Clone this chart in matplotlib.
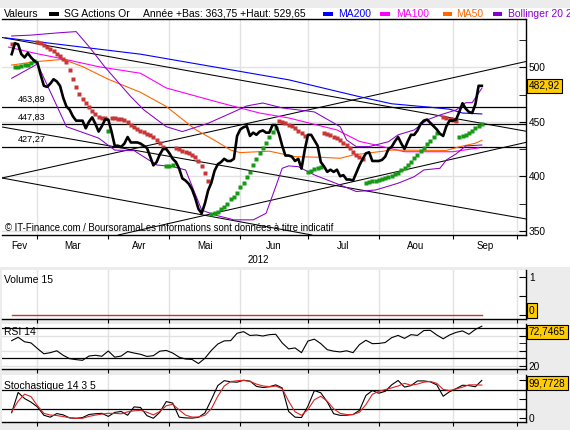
import numpy as np
import pandas as pd
import matplotlib
matplotlib.use('Agg')
import matplotlib.pyplot as plt
import matplotlib.transforms as mtransforms
from matplotlib.patches import Rectangle

plt.rcParams['font.family'] = ['Liberation Sans', 'DejaVu Sans']

# trading sessions on the x axis (Euronext Paris, 2012)
sessions = pd.bdate_range('2012-02-15', '2012-10-05')
sessions = sessions.drop(pd.to_datetime(['2012-04-06', '2012-04-09', '2012-05-01']))

first_day = '2012-02-20'
year_low, year_high = 363.75, 529.65

# daily close, 20 Feb -> 14 Sep
close = [512, 522, 521, 512, 509, 513, 509, 506, 504, 493,
         483, 482, 485, 489, 487, 483, 472, 464, 461, 455,
         451, 451, 451, 444, 450, 454, 448, 441, 446, 452,
         452, 441, 428, 428, 427, 430, 436, 431, 431, 431,
         430, 428, 426, 418, 410, 413, 420, 425, 425, 421,
         416, 413, 407, 398, 396, 393, 388, 380, 370, 366,
         375, 387, 394, 405, 411, 413, 416, 414, 414, 416,
         437, 443, 445, 446, 437, 440, 438, 441, 442, 440,
         440, 447, 447, 439, 428, 419, 419, 418, 414, 416,
         407, 424, 438, 438, 433, 428, 413, 409, 404, 406,
         404, 406, 400, 401, 397, 397, 396, 403, 410, 416,
         421, 422, 414, 414, 414, 415, 418, 425, 427, 432,
         436, 430, 425, 432, 438, 438, 442, 448, 451, 452,
         449, 446, 443, 439, 437, 446, 451, 451, 452, 459,
         467, 462, 459, 458, 466, 483, 482.92]

ma200_dates = ['2012-02-16', '2012-04-18', '2012-06-22', '2012-07-24', '2012-08-07',
               '2012-08-23', '2012-08-31', '2012-09-06', '2012-09-14']
ma200 = [527, 512, 488.5, 473, 466.5, 463.3, 461.5, 458, 457.2]

ma100_dates = ['2012-02-17', '2012-02-29', '2012-03-14', '2012-03-28', '2012-04-18',
               '2012-04-30', '2012-05-23', '2012-06-11', '2012-06-22', '2012-07-13',
               '2012-07-24', '2012-08-01', '2012-08-13', '2012-09-03', '2012-09-13']
ma100 = [518.5, 513, 507, 500.5, 494.5, 481, 468, 458, 453.5, 442.5, 432, 428, 422.5, 422.5, 426]

ma50_dates = ['2012-02-20', '2012-02-29', '2012-03-13', '2012-03-21', '2012-04-02',
              '2012-04-18', '2012-04-30', '2012-05-14', '2012-05-22', '2012-05-29',
              '2012-06-01', '2012-06-14', '2012-06-26', '2012-07-06', '2012-07-16',
              '2012-07-20', '2012-07-26', '2012-08-07', '2012-08-30', '2012-09-05',
              '2012-09-12', '2012-09-14']
ma50 = [502, 505, 507.3, 500.6, 489, 477, 464, 443, 433, 424, 421.7, 423, 418, 417.4,
        416.5, 419.5, 421, 424, 423.7, 427, 430.3, 433]

boll_up_dates = ['2012-02-20', '2012-02-28', '2012-03-12', '2012-03-19', '2012-03-23',
                 '2012-03-30', '2012-04-13', '2012-04-19', '2012-04-30', '2012-05-08',
                 '2012-05-18', '2012-05-29', '2012-06-05', '2012-06-12', '2012-06-20',
                 '2012-07-04', '2012-07-16', '2012-07-18', '2012-07-23', '2012-07-27',
                 '2012-08-06', '2012-08-09', '2012-08-16', '2012-08-22', '2012-08-28',
                 '2012-09-04', '2012-09-07', '2012-09-11', '2012-09-14']
boll_up = [528.7, 529.5, 531.7, 532.7, 519, 500, 473, 461, 445.5, 441, 448.6, 457.8,
           464.5, 467.2, 462.7, 459, 445.5, 433.3, 427.2, 427.2, 431.7, 438, 442.5,
           451.7, 456.2, 460.8, 467.5, 467.5, 480.7]

boll_lo_dates = ['2012-02-20', '2012-03-01', '2012-03-14', '2012-03-28', '2012-04-04',
                 '2012-04-16', '2012-04-25', '2012-05-03', '2012-05-09', '2012-05-16',
                 '2012-05-22', '2012-05-30', '2012-06-07', '2012-06-13', '2012-06-18',
                 '2012-06-20', '2012-06-22', '2012-06-27', '2012-07-04', '2012-07-16',
                 '2012-07-23', '2012-07-31', '2012-08-09', '2012-08-16', '2012-08-21',
                 '2012-08-28', '2012-08-30', '2012-09-04', '2012-09-07', '2012-09-14']
boll_lo = [489.9, 503, 445.5, 435, 424, 423.5, 410.4, 408.8, 405.8, 369, 364.5, 360,
           360, 366, 390.5, 407.3, 409.5, 408.8, 401.2, 392, 386, 387.4, 393.6, 399.6,
           405.8, 407.3, 415, 420.5, 427.8, 428.7]

# parabolic SAR runs: first session, side, values
sar_runs = [
    ('2012-02-20', 'red', [521.4]),
    ('2012-02-21', 'green', [500.0, 500.5, 501.2, 501.8, 502.4, 503.6, 505.3]),
    ('2012-03-01', 'red', [523.2, 522.3, 520.5, 518.6, 516.3, 514.5, 512.2, 509.9, 507.2, 504.9,
                           497.5, 489.3, 482.0, 475.5, 470.5, 467.2, 463.6, 459.9, 456.7, 454.4,
                           453.2, 453.0]),
    ('2012-04-02', 'green', [441.6]),
    ('2012-04-03', 'red', [453.2, 453.0, 452.6, 452.1, 451.2, 449.4, 447.1, 445.2, 443.4, 441.6,
                           440.2, 438.8, 437.4, 435.6, 433.3, 430.6, 426.9]),
    ('2012-04-30', 'green', [409.5, 409.8, 410.2]),
    ('2012-05-04', 'red', [425.7, 424.6, 423.2, 421.8, 420.9, 419.5, 417.4, 414.0, 409.5, 403.0, 396.1]),
    ('2012-05-21', 'green', [365.4, 366.1, 367.5, 369.9, 372.1, 374.6, 378.9, 381.3, 385.0, 389.9,
                             394.1, 399.1, 404.2, 410.1, 415.6, 421.1, 425.7, 430.8, 435.6, 440.2,
                             443.9]),
    ('2012-06-19', 'red', [450.3, 449.4, 448.4, 447.1, 445.7, 443.9, 441.6, 439.3, 437.0]),
    ('2012-07-02', 'green', [404.2, 405.1, 406.4, 407.3, 408.8]),
    ('2012-07-09', 'red', [439.5, 438.4, 437.9, 436.3, 434.9, 433.3, 430.8, 428.7, 425.7, 422.6,
                           419.5, 417.3, 416.0]),
    ('2012-07-26', 'green', [394.1, 394.8, 395.2, 395.7, 396.6, 397.3, 398.2, 399.1, 400.3, 401.7,
                             403.0, 405.3, 407.6, 409.9, 413.1, 416.3, 419.5, 422.8, 426.0, 429.6,
                             432.8, 436.1, 439.7]),
    ('2012-08-29', 'red', [454.1, 453.2, 452.3, 451.7, 451.0]),
    ('2012-09-05', 'green', [435.8, 437.0, 438.2, 440.0, 441.8, 444.0, 445.7, 447.5]),
]

levels = [463.89, 447.83, 427.27]

# trend lines as two anchor points (date, price)
trend_lines = [
    (('2012-02-15', 527.3), ('2012-10-03', 441.7)),
    (('2012-02-15', 398.4), ('2012-10-03', 504.8)),
    (('2012-02-15', 445.2), ('2012-10-03', 361.2)),
    (('2012-02-15', 398.4), ('2012-05-16', 364.7)),
    (('2012-04-16', 349.4), ('2012-10-03', 430.6)),
]

# every second session from 20 Feb
rsi = [53.5, 58, 52, 50.5, 43, 36, 37.5, 40, 34, 29.5,
       28.2, 27.3, 33, 34, 32.7, 39.7, 31.5, 33, 39, 37,
       35.3, 32.5, 33.5, 39.5, 40.5, 37, 31.5, 29, 28.5, 23,
       30, 40.5, 49, 53.2, 53.5, 63.4, 65.5, 60.4, 61, 59.7,
       61.5, 62, 50.5, 42.5, 43.8, 37.5, 53, 55.5, 49.5, 41.5,
       39.5, 38.5, 40, 37.5, 48.2, 54, 49.5, 49.8, 51, 57.5,
       60.5, 56.5, 61.5, 60.5, 67, 67.3, 61.1, 56, 61.1, 64.5,
       66.5, 62, 68.5, 72.7465]
stoch_k = [14.8, 68, 52, 42.5, 30, 8, 3, 12.5, 9, 1,
           0, 2, 10, 12, 13, 5, 15.5, 18, 8, 30,
           28.5, 7, 0, 16, 44, 40, 3, 1, 0.5, 2.5,
           14, 49, 86, 99, 96, 95, 100, 98, 84, 81,
           83, 88, 80, 18, 3, 2, 32, 73, 67, 43,
           12, 7.8, 8.2, 10, 21, 60, 73, 66, 71, 88,
           99.5, 82, 86, 98.3, 98.3, 96, 88, 58, 70, 78,
           87, 86, 83, 99.7728]
stoch_d = [17.5, 45, 63.5, 57, 33, 13, 8.6, 7.3, 4.5, 1.5,
           0, 0, 5, 8.5, 11, 13.1, 13, 11.8, 17, 19.8,
           21, 16, 9, 18, 33, 37, 22, 8.5, 3.2, 3.5,
           8, 25, 58, 85, 96.5, 98.8, 99.8, 97, 90, 85.2,
           83.2, 84.5, 78, 45, 17, 8, 23, 49, 58, 45,
           25, 13, 10, 10, 16, 36, 63, 71, 75.5, 80,
           85, 92, 87, 90, 95, 97, 92, 76, 73, 77,
           82, 88, 88, 87.4]
# the index has no traded volume
volume_ma15 = [0.0] * len(close)

W, H = 570, 430
BLUE, MAGENTA, ORANGE, PURPLE = '#0000ff', '#ff00ff', '#ff6600', '#8800cc'
SAR_COLORS = {'red': '#c83737', 'green': '#159a15'}
GRID = '#e2e2e2'


def fx(x):
    return x / W


def fy(y):
    return 1 - y / H


def pos(dates):
    return sessions.get_indexer(pd.to_datetime(dates))


def fmt(v, nd=2):
    return f'{v:.{nd}f}'.replace('.', ',')


x0 = pos([first_day])[0]
x_close = np.arange(x0, x0 + len(close))
x_half = x_close[::2]
xlim = (-0.012, 162.72)
month_starts = [i for i in range(1, len(sessions)) if sessions[i].month != sessions[i - 1].month]
month_names = ['Jan', 'Fev', 'Mar', 'Avr', 'Mai', 'Jun', 'Jul', 'Aou', 'Sep', 'Oct', 'Nov', 'Dec']

fig = plt.figure(figsize=(W / 100, H / 100), dpi=100)
fig.patch.set_facecolor('#ececec')
fig.patches.append(Rectangle((0, fy(267)), 1, fy(7.5) - fy(267), transform=fig.transFigure,
                             fc='white', ec='none', zorder=-5))


def value_box(ax, v, txt):
    lo, hi = ax.get_ylim()
    half = 8 * (hi - lo) / (ax.get_position().height * H)
    yv = min(max(v, lo + half), hi - half)
    tr = mtransforms.blended_transform_factory(ax.transAxes, ax.transData)
    ax.text(1.0055, yv, txt, transform=tr, ha='left', va='center', fontsize=7.3, zorder=20,
            clip_on=False, bbox=dict(boxstyle='square,pad=0.22', fc='#ffcc00', ec='black', lw=0.8))


def panel(ax, ylim):
    ax.set_xlim(*xlim)
    ax.set_ylim(*ylim)
    ax.set_facecolor('white')
    ax.spines['left'].set_visible(False)
    for s in ['top', 'right', 'bottom']:
        ax.spines[s].set_linewidth(1)
    ax.set_xticks(month_starts)
    ax.grid(axis='x', color=GRID, lw=1)
    ax.set_axisbelow(True)
    ax.yaxis.tick_right()
    ax.tick_params(axis='y', which='both', direction='in', length=5, pad=2, labelsize=7.3,
                   right=True, left=False)
    ax.tick_params(axis='x', direction='out', length=3, labelbottom=False)


# ---------- main price panel ----------
ax = fig.add_axes([fx(2), fy(235), fx(526) - fx(2), fy(19.3) - fy(235)])
panel(ax, (346.1, 544))
ax.set_yticks([350, 400, 450, 500])
ax.set_yticks([375, 425, 475, 525], minor=True)
ax.grid(axis='y', which='major', color=GRID, lw=1)

for lv in levels:
    ax.axhline(lv, color='black', lw=0.9, zorder=2)
    ax.text(5, lv + 2.2, fmt(lv), fontsize=6.6, ha='left', va='bottom', zorder=8)

for (d1, p1), (d2, p2) in trend_lines:
    ax.axline((pos([d1])[0], p1), (pos([d2])[0], p2), color='black', lw=0.75, zorder=2)

ax.plot(pos(ma200_dates), ma200, color=BLUE, lw=0.8, zorder=3)
ax.plot(pos(ma100_dates), ma100, color=MAGENTA, lw=0.8, zorder=3)
ax.plot(pos(ma50_dates), ma50, color=ORANGE, lw=0.8, zorder=3)
ax.plot(pos(boll_up_dates), boll_up, color=PURPLE, lw=0.75, zorder=3)
ax.plot(pos(boll_lo_dates), boll_lo, color=PURPLE, lw=0.75, zorder=3)

for start, side, vals in sar_runs:
    xs = np.arange(pos([start])[0], pos([start])[0] + len(vals))
    ax.plot(xs, vals, ls='none', marker='s', ms=2.7, mfc=SAR_COLORS[side], mec='none', zorder=4)

ax.plot(x_close, close, color='black', lw=1.9, zorder=6, solid_joinstyle='round')
value_box(ax, close[-1], fmt(close[-1]))

# month labels and year
tr = mtransforms.blended_transform_factory(ax.transData, ax.transAxes)
bounds = [xlim[0]] + month_starts
for a, b in zip(bounds[:-1], bounds[1:]):
    m = sessions[int(round(b)) - 1].month
    ax.text((a + b) / 2, -0.053, month_names[m - 1], transform=tr, ha='center', va='center',
            fontsize=7, clip_on=False)
ax.text(0.4885, -0.118, '2012', transform=ax.transAxes, ha='center', va='center', fontsize=7)
ax.text(0.0057, 0.032, '\u00a9 IT-Finance.com / BoursoramaLes informations sont données à titre indicatif',
        transform=ax.transAxes, ha='left', va='center', fontsize=6.9, zorder=9)

# legend row
ly = fy(14)


def legend_text(x, s, color='black'):
    fig.text(fx(x), ly, s, color=color, fontsize=7.5, ha='left', va='center')


def legend_bar(xa, xb, color):
    fig.patches.append(Rectangle((fx(xa), fy(16.2)), fx(xb) - fx(xa), fy(11.7) - fy(16.2),
                                 transform=fig.transFigure, fc=color, ec='none'))


legend_text(4, 'Valeurs')
legend_bar(49, 59, 'black')
legend_text(64, 'SG Actions Or')
legend_text(143, f'Année +Bas: {fmt(year_low)} +Haut: {fmt(year_high)}')
legend_bar(323, 333, BLUE)
legend_text(338, 'MA200', BLUE)
legend_bar(380, 390, MAGENTA)
legend_text(396, 'MA100', MAGENTA)
legend_bar(443, 452, ORANGE)
legend_text(456, 'MA50', ORANGE)
legend_bar(493, 502, PURPLE)
legend_text(508, 'Bollinger 20 2', PURPLE)

# ---------- volume ----------
vax = fig.add_axes([fx(2), fy(318.5), fx(526) - fx(2), fy(269.5) - fy(318.5)])
panel(vax, (-0.092, 1.21))
vax.spines['top'].set_visible(False)
vax.set_yticks([0, 0.5, 1])
vax.set_yticklabels(['', '', '1'])
vax.plot(x_close, volume_ma15, color='#cc3333', lw=1)
value_box(vax, volume_ma15[-1], '0')
fig.text(fx(4), fy(280), 'Volume 15', fontsize=7.5, ha='left', va='center')

# ---------- RSI ----------
rax = fig.add_axes([fx(2), fy(369.3), fx(526) - fx(2), fy(324) - fy(369.3)])
panel(rax, (15.33, 75.7))
rax.spines['top'].set_visible(False)
rax.set_yticks([20, 40, 60])
rax.set_yticklabels(['20', '', ''])
rax.set_yticks([50], minor=True)
rax.grid(axis='y', which='major', color=GRID, lw=1)
for lv in (70, 30):
    rax.axhline(lv, color='black', lw=0.9)
rax.plot(x_half, rsi, color='black', lw=0.8)
value_box(rax, rsi[-1], fmt(rsi[-1], 4))
fig.text(fx(4), fy(332), 'RSI 14', fontsize=7.5, ha='left', va='center')

# ---------- stochastic ----------
sax = fig.add_axes([fx(2), fy(422.3), fx(526) - fx(2), fy(375) - fy(422.3)])
panel(sax, (-10.5, 113.9))
sax.spines['top'].set_visible(False)
sax.set_yticks([0, 25, 50, 75, 100])
sax.set_yticklabels(['0', '', '', '', ''])
for lv in (75, 25):
    sax.axhline(lv, color='black', lw=0.9)
sax.plot(x_half, stoch_k, color='black', lw=0.8)
sax.plot(x_half, stoch_d, color='#dd2222', lw=0.8)
value_box(sax, stoch_k[-1], fmt(stoch_k[-1], 4))
fig.text(fx(4), fy(385.7), 'Stochastique 14 3 5', fontsize=7.5, ha='left', va='center')

fig.savefig('out.png', dpi=100, facecolor=fig.get_facecolor())
